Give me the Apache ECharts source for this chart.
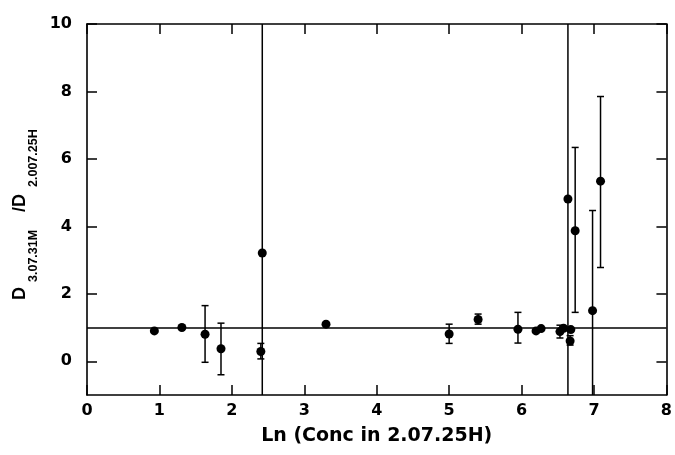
<!DOCTYPE html>
<html><head><meta charset="utf-8">
<script src="https://cdn.jsdelivr.net/npm/echarts@6/dist/echarts.min.js"></script>
<style>html,body{margin:0;padding:0;background:#fff}#c{width:675px;height:455px}</style>
</head><body><div id="c"></div>
<script>
// ---- data ----
const xVals   = [0.93, 1.31, 1.63, 1.85, 2.42, 2.40, 3.30, 5.00, 5.40, 5.95, 6.20, 6.27, 6.53, 6.58, 6.64, 6.68, 6.67, 6.74, 6.98, 7.09];
const yVals   = [0.90, 1.00, 0.80, 0.37, 3.21, 0.29, 1.10, 0.81, 1.24, 0.95, 0.90, 0.97, 0.88, 0.98, 4.81, 0.94, 0.60, 3.87, 1.50, 5.34];
const errLow  = [null, null, -0.03, -0.40, -4.80, 0.07, null, 0.53, 1.10, 0.54, null, null, 0.69, null, -5.00, null, 0.48, 1.45, -1.47, 2.78];
const errHigh = [null, null, 1.65, 1.13, 11.20, 0.53, null, 1.10, 1.40, 1.45, null, null, 1.07, null, 14.60, null, 0.76, 6.34, 4.47, 7.85];
const refLine = 1;
const xTicks = [0, 1, 2, 3, 4, 5, 6, 7, 8];
const yTicks = [0, 2, 4, 6, 8, 10];
const xTitle = 'Ln (Conc in 2.07.25H)';

const FONT = '"Liberation Sans", Arial, Helvetica, sans-serif';
const WFONT = '"DejaVu Sans", "Liberation Sans", Arial, sans-serif';
const points = xVals.map((x, i) => [x, yVals[i]]);
const bars = [];
xVals.forEach((x, i) => { if (errLow[i] !== null) bars.push([x, errLow[i], errHigh[i]]); });

const axisLineStyle = { color: '#000', width: 1.6 };
const tickStyle = { color: '#000', width: 1.5 };

const chart = echarts.init(document.getElementById('c'), null, { renderer: 'canvas' });
chart.setOption({
  animation: false,
  backgroundColor: '#fff',
  grid: { left: 87, right: 6, top: 24, bottom: 60, containLabel: false },
  xAxis: [{
    type: 'value', min: 0, max: 8, interval: 1, position: 'bottom',
    name: xTitle, nameLocation: 'middle', nameGap: 32,
    nameTextStyle: { fontFamily: WFONT, fontWeight: 'bold', fontSize: 19, color: '#000' },
    axisLine: { show: true, onZero: false, lineStyle: axisLineStyle },
    axisTick: { show: true, inside: true, length: 10, lineStyle: tickStyle, customValues: xTicks },
    axisLabel: { show: true, margin: 8, fontFamily: WFONT, fontWeight: 'bold', fontSize: 16, color: '#000', customValues: xTicks },
    splitLine: { show: false }
  }, {
    type: 'value', min: 0, max: 8, interval: 1, position: 'top',
    axisLine: { show: true, onZero: false, lineStyle: axisLineStyle },
    axisTick: { show: true, inside: true, length: 10, lineStyle: tickStyle, customValues: xTicks },
    axisLabel: { show: false },
    splitLine: { show: false }
  }],
  yAxis: [{
    type: 'value', min: -1, max: 10, position: 'left',
    axisLine: { show: true, onZero: false, lineStyle: axisLineStyle },
    axisTick: { show: true, inside: true, length: 10, lineStyle: tickStyle, customValues: yTicks },
    axisLabel: { show: true, margin: 15, fontFamily: WFONT, fontWeight: 'bold', fontSize: 16, color: '#000', customValues: yTicks },
    splitLine: { show: false }
  }, {
    type: 'value', min: -1, max: 10, position: 'right',
    axisLine: { show: true, onZero: false, lineStyle: axisLineStyle },
    axisTick: { show: true, inside: true, length: 10, lineStyle: tickStyle, customValues: yTicks },
    axisLabel: { show: false },
    splitLine: { show: false }
  }],
  graphic: [
    { type: 'text', x: 20.5, y: 300, rotation: Math.PI / 2,
      style: { text: 'D', font: 'bold 18px ' + FONT, fill: '#000', textAlign: 'left', textVerticalAlign: 'middle', align: 'left', verticalAlign: 'middle' } },
    { type: 'text', x: 33.5, y: 282, rotation: Math.PI / 2,
      style: { text: '3.07.31M', font: 'bold 12.5px ' + FONT, fill: '#000', textAlign: 'left', textVerticalAlign: 'middle', align: 'left', verticalAlign: 'middle' } },
    { type: 'text', x: 20.5, y: 212, rotation: Math.PI / 2,
      style: { text: '/D', font: 'bold 18px ' + FONT, fill: '#000', textAlign: 'left', textVerticalAlign: 'middle', align: 'left', verticalAlign: 'middle' } },
    { type: 'text', x: 33.5, y: 187, rotation: Math.PI / 2,
      style: { text: '2.007.25H', font: 'bold 12.5px ' + FONT, fill: '#000', textAlign: 'left', textVerticalAlign: 'middle', align: 'left', verticalAlign: 'middle' } }
  ],
  series: [{
    type: 'custom',
    xAxisIndex: 0, yAxisIndex: 0,
    clip: true,
    silent: true,
    data: bars,
    renderItem: function (params, api) {
      const x = api.value(0);
      const lo = api.coord([x, api.value(1)]);
      const hi = api.coord([x, api.value(2)]);
      const hw = 3.5;
      const st = { stroke: '#000', lineWidth: 1.5 };
      return {
        type: 'group',
        children: [
          { type: 'line', shape: { x1: lo[0], y1: lo[1], x2: hi[0], y2: hi[1] }, style: st },
          { type: 'line', shape: { x1: lo[0] - hw, y1: lo[1], x2: lo[0] + hw, y2: lo[1] }, style: st },
          { type: 'line', shape: { x1: hi[0] - hw, y1: hi[1], x2: hi[0] + hw, y2: hi[1] }, style: st }
        ]
      };
    }
  }, {
    type: 'scatter',
    xAxisIndex: 0, yAxisIndex: 0,
    symbol: 'circle', symbolSize: 9,
    itemStyle: { color: '#000', opacity: 1 },
    data: points,
    markLine: {
      silent: true, symbol: ['none', 'none'],
      label: { show: false },
      lineStyle: { color: '#000', width: 1.5, type: 'solid', opacity: 1 },
      data: [{ yAxis: refLine }]
    }
  }]
});
</script></body></html>
